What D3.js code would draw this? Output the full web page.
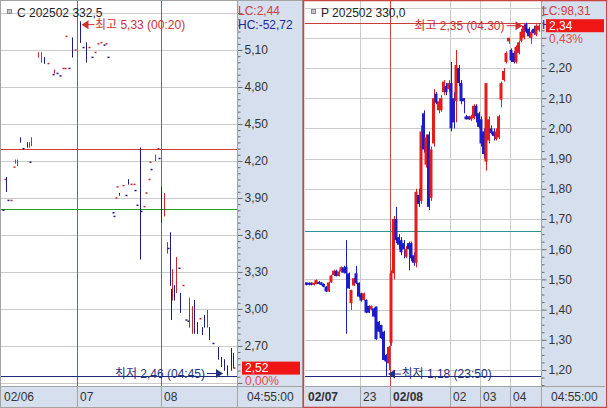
<!DOCTYPE html>
<html>
<head>
<meta charset="utf-8">
<script src="https://cdn.jsdelivr.net/npm/d3@7"></script>
<style>
  html, body { margin: 0; padding: 0; background: #fff; }
  svg { display: block; }
  text { font-family: "Liberation Sans", Arial, "Noto Sans CJK KR", sans-serif; font-size: 12px; }
</style>
</head>
<body>
<svg id="chart" width="608" height="408"></svg>
<script>
// ---------- Call option: C 202502 332.5 (thin trading, one entry per traded bar) ----------
const callTitle = "C 202502 332,5";
const callSlot  = [0,1,2,3,5,7,8,9,11,13,16,17,18,19,23,25,27,30,33,34,36,38,40,41,42,44,46,48,51,53,55,57,59,61,63,65,67,69,70,73,74,75,76,77,80,82,83,85,87,88,89,91,92,94,95,97,98,99,101,103,104,105,107,109,110,111,112,113,114,115,117,118,120,122,123,124,126,127,129,131,133,134,136,137,140,143,145,147,149,152,153,154];
const callOpen  = [3.80,4.05,4.07,3.88,3.88,4.15,4.18,4.16,4.39,4.30, 4.35,4.31,4.19,4.32,5.04,5.00,5.04,4.99,4.90,4.91, 4.91,4.89,4.95,4.95,5.21,4.95,5.20,5.10,5.33,5.12, 5.16,5.12,5.04,5.08,5.15,5.16,5.14,5.15,5.04,3.78, 3.75,3.90,3.99,3.94,4.00,3.92,4.05,4.01,4.01,3.96, 3.84,3.85,3.79,3.83,3.94,4.05,4.19,4.13,4.20,4.30, 4.22,3.96,3.76,3.45,3.49,3.62,3.16,3.07,3.19,3.13, 3.33,3.13,3.19,2.91,2.90,2.85,2.80,3.07,2.89,2.92, 2.85,2.95,2.85,2.85,2.72,2.69,2.61,2.59,2.54,2.68, 2.64,2.52];
const callHigh  = [3.80,4.05,4.07,3.88,3.88,4.15,4.21,4.21,4.39,4.30, 4.35,4.35,4.19,4.39,5.08,5.08,5.04,4.99,4.90,4.94, 4.91,4.89,4.95,4.95,5.21,4.95,5.20,5.10,5.33,5.12, 5.16,5.12,5.04,5.08,5.15,5.16,5.14,5.15,5.04,3.78, 3.75,3.90,3.99,3.94,4.00,3.92,4.05,4.01,4.01,3.96, 3.84,4.31,3.79,3.83,3.94,4.05,4.19,4.13,4.25,4.30, 4.22,3.99,3.94,3.54,3.49,3.62,3.16,3.32,3.19,3.42, 3.33,3.13,3.19,2.91,2.90,3.09,3.02,3.07,2.89,2.92, 2.85,2.95,2.99,2.85,2.72,2.69,2.61,2.59,2.54,2.68, 2.64,2.52];
const callLow   = [3.80,4.05,3.95,3.88,3.88,4.15,4.18,4.16,4.35,4.30, 4.31,4.31,4.19,4.32,5.04,5.00,4.99,4.99,4.90,4.91, 4.91,4.89,4.95,4.95,5.21,4.95,5.04,5.10,5.16,5.12, 5.00,5.12,5.04,5.08,5.15,5.16,5.14,5.15,5.04,3.78, 3.75,3.90,3.99,3.92,4.00,3.92,4.01,4.01,4.01,3.96, 3.84,3.40,3.79,3.83,3.94,4.05,4.19,4.13,4.20,4.30, 4.22,3.70,3.75,3.45,3.49,3.19,2.91,3.07,3.07,3.13, 3.33,2.97,3.19,2.91,2.90,2.85,2.80,2.80,2.80,2.92, 2.79,2.85,2.85,2.75,2.72,2.59,2.53,2.50,2.46,2.50, 2.52,2.52];
const callClose = [3.80,4.05,3.95,3.88,3.88,4.15,4.21,4.21,4.35,4.30, 4.31,4.35,4.19,4.39,5.08,5.08,4.99,4.99,4.90,4.94, 4.91,4.89,4.95,4.95,5.21,4.95,5.04,5.10,5.16,5.12, 5.00,5.12,5.04,5.08,5.15,5.16,5.14,5.15,5.04,3.78, 3.75,3.90,3.99,3.92,4.00,3.92,4.01,4.01,4.01,3.96, 3.84,3.80,3.79,3.83,3.94,4.05,4.19,4.13,4.25,4.30, 4.22,3.74,3.90,3.54,3.49,3.19,2.91,3.32,3.07,3.42, 3.33,2.97,3.19,2.91,2.90,3.09,3.02,2.80,2.80,2.92, 2.79,2.85,2.99,2.75,2.72,2.59,2.53,2.50,2.46,2.50, 2.52,2.52];
const callTicks      = [2.40,2.70,3.00,3.30,3.60,3.90,4.20,4.50,4.80,5.10,5.40];
const callDayLabels  = ["02/06","07","08"];
const callDaySlots   = [0,49,105];
const callDayBold    = [false,false,false];
const callRefValues  = [4.30,3.81,2.46];
const callInfo       = ["LC:2,44","HC:-52,72"];
const callLast       = 2.52;
const callChange     = "0,00%";
const callExtValue   = [5.33,2.46];
const callExtTime    = ["00:20","04:45"];
const callExtSlot    = [51,149];

// ---------- Put option: P 202502 330.0 (5-minute bars, 21:10 - 04:55) ----------
const putTitle = "P 202502 330,0";
const putOpen  = [1.490,1.489,1.489,1.482,1.485,1.492,1.490,1.485,1.476,1.460, 1.490,1.514,1.529,1.511,1.526,1.540,1.542,1.520,1.421,1.480, 1.520,1.489,1.454,1.432,1.432,1.412,1.400,1.404,1.410,1.360, 1.349,1.327,1.250,1.222,1.290,1.520,1.700,1.640,1.630,1.620, 1.575,1.620,1.620,1.580,1.555,1.780,1.760,2.050,1.880,1.980, 1.770,1.950,2.115,2.060,2.060,2.120,2.140,2.130,2.150,2.100, 2.090,2.200,2.150,2.100,2.040,2.040,2.030,2.035,2.075,2.050, 2.030,1.990,1.890,1.960,2.000,1.990,1.965,1.970,2.095,2.160, 2.220,2.288,2.260,2.250,2.220,2.250,2.290,2.300,2.345,2.330, 2.300,2.330,2.310,2.325];
const putHigh  = [1.490,1.490,1.490,1.490,1.500,1.495,1.492,1.487,1.478,1.492, 1.515,1.532,1.532,1.530,1.543,1.545,1.630,1.523,1.466,1.505, 1.545,1.490,1.456,1.456,1.434,1.414,1.414,1.406,1.410,1.362, 1.350,1.330,1.252,1.280,1.530,1.710,1.740,1.650,1.640,1.630, 1.610,1.625,1.625,1.590,1.800,1.800,2.010,2.060,1.980,1.990, 1.940,2.130,2.120,2.100,2.110,2.160,2.150,2.160,2.220,2.120, 2.260,2.210,2.160,2.100,2.045,2.042,2.045,2.080,2.080,2.055, 2.040,2.000,2.150,2.040,2.010,2.000,2.000,2.045,2.155,2.200, 2.255,2.300,2.265,2.255,2.275,2.290,2.330,2.345,2.350,2.335, 2.325,2.340,2.345,2.345];
const putLow   = [1.480,1.480,1.480,1.480,1.484,1.484,1.480,1.474,1.458,1.458, 1.488,1.512,1.510,1.510,1.522,1.520,1.320,1.468,1.399,1.478, 1.485,1.440,1.426,1.430,1.388,1.388,1.398,1.375,1.300,1.325, 1.303,1.232,1.180,1.200,1.280,1.500,1.620,1.600,1.580,1.570, 1.570,1.530,1.560,1.545,1.540,1.740,1.750,1.920,1.870,1.730, 1.760,1.940,2.080,2.050,2.055,2.110,2.110,2.120,1.990,2.000, 2.020,2.140,2.080,2.050,2.030,2.028,2.025,2.030,2.020,2.000, 1.940,1.900,1.860,1.950,1.980,1.960,1.960,1.965,2.070,2.155, 2.215,2.280,2.220,2.215,2.215,2.245,2.285,2.295,2.315,2.300, 2.280,2.310,2.305,2.320];
const putClose = [1.482,1.482,1.482,1.489,1.498,1.485,1.482,1.476,1.460,1.490, 1.513,1.529,1.511,1.526,1.540,1.522,1.520,1.470,1.465,1.504, 1.487,1.443,1.430,1.454,1.390,1.390,1.412,1.377,1.302,1.327, 1.305,1.233,1.228,1.277,1.520,1.700,1.630,1.615,1.590,1.600, 1.600,1.600,1.570,1.555,1.790,1.750,1.990,1.930,1.970,1.740, 1.930,2.100,2.085,2.090,2.100,2.155,2.120,2.150,2.000,2.020, 2.210,2.150,2.090,2.090,2.030,2.030,2.040,2.075,2.040,2.005, 1.950,1.915,2.150,2.030,1.985,1.975,1.990,2.040,2.150,2.190, 2.250,2.300,2.225,2.220,2.270,2.285,2.320,2.340,2.320,2.305, 2.320,2.315,2.340,2.340];
const putTicks      = [1.10,1.20,1.30,1.40,1.50,1.60,1.70,1.80,1.90,2.00,2.10,2.20,2.30,2.40];
const putHourLabels = ["02/07","23","02/08","02","03","04"];
const putHourSlots  = [0,22,34,58,70,82];
const putHourBold   = [true,false,true,false,false,false];
const putRefValues  = [2.35,1.66,1.18];
const putInfo       = ["LC:98,31","HC:-58,92"];
const putLast       = 2.34;
const putChange     = "0,43%";
const putExtValue   = [2.35,1.18];
const putExtTime    = ["04:30","23:50"];
const putExtSlot    = [88,32];

const lastTime = "04:55:00";

// ---------- shared styling ----------
const BAND = "#d5dfee";
const GRID = "#cbcbcb";
const FRAME = "#a3a3a3";
const SEP = "#cc4444";
const HIGH_TXT = "#cc3030";
const LOW_TXT = "#23307e";

const svg = d3.select("#chart");
const defs = svg.append("defs");
const locale = d3.formatLocale({decimal: ",", thousands: ".", grouping: [3], currency: ["", ""]});
const f2 = locale.format(".2f");
const crisp = v => Math.round(v) + 0.5;

function drawPanel(p) {
  const top = 1, plotBottom = 386, bottom = 407;
  const g = svg.append("g");
  const x = d3.scaleLinear().domain(p.slotDomain).range([p.plotX0, p.plotX1]);
  const y = d3.scaleLinear().domain(p.yDomain).range(p.yRange);
  const step = x(1) - x(0);

  // backgrounds: plot, price axis strip, time axis strip
  g.append("rect").attr("x", p.frameX0).attr("y", top).attr("width", p.plotX1 - p.frameX0).attr("height", plotBottom - top).attr("fill", "#fff");
  g.append("rect").attr("x", p.plotX1).attr("y", top).attr("width", p.axisX1 - p.plotX1).attr("height", plotBottom - top).attr("fill", BAND);
  g.append("rect").attr("x", p.frameX0).attr("y", plotBottom).attr("width", p.axisX1 - p.frameX0).attr("height", bottom - plotBottom).attr("fill", BAND);

  defs.append("clipPath").attr("id", p.id + "-clip")
    .append("rect").attr("x", p.frameX0).attr("y", top).attr("width", p.plotX1 - p.frameX0).attr("height", plotBottom - top);
  const plot = g.append("g").attr("clip-path", `url(#${p.id}-clip)`);

  // horizontal price grid
  plot.selectAll("line.hgrid").data(p.ticks).join("line").attr("class", "hgrid")
    .attr("x1", p.frameX0).attr("x2", p.plotX1)
    .attr("y1", d => crisp(y(d))).attr("y2", d => crisp(y(d)))
    .attr("stroke", GRID).attr("stroke-width", 1);

  // hour grid and day separators
  const divX = s => crisp(x(s) - p.gridShift * step);
  p.timeSlots.forEach((s, i) => {
    if (i === 0) return;
    const isDay = p.dayMarks.includes(s);
    plot.append("line")
      .attr("x1", divX(s)).attr("x2", divX(s)).attr("y1", top).attr("y2", plotBottom)
      .style("stroke", isDay ? SEP : GRID).style("stroke-width", 1);
  });

  // reference lines
  p.refValues.forEach((v, i) => {
    plot.append("line")
      .attr("x1", p.frameX0).attr("x2", p.plotX1)
      .attr("y1", crisp(y(v))).attr("y2", crisp(y(v)))
      .style("stroke", p.refColors[i]).style("stroke-width", 1);
  });

  // candles
  const bars = p.slot.map((s, i) => ({s, o: p.open[i], h: p.high[i], l: p.low[i], c: p.close[i]}));
  bars.forEach((b, i) => {
    b.up = b.c > b.o ? true : b.c < b.o ? false : (i > 0 ? b.c >= bars[i - 1].c : false);
  });
  const color = b => b.up ? p.upColor : p.downColor;
  const bodyH = b => Math.abs(y(b.o) - y(b.c));
  const bodyW = b => (p.thin && bodyH(b) < 1.5) ? 2 : p.bodyW;
  plot.selectAll("line.wick").data(bars).join("line").attr("class", "wick")
    .attr("x1", b => crisp(x(b.s))).attr("x2", b => crisp(x(b.s)))
    .attr("y1", b => y(b.h)).attr("y2", b => y(b.l))
    .attr("stroke", color).attr("stroke-width", 1);
  plot.selectAll("rect.body").data(bars).join("rect").attr("class", "body")
    .attr("x", b => p.thin ? Math.round(x(b.s)) - (bodyW(b) > 1 ? 0.5 : 0) : x(b.s) - bodyW(b) / 2)
    .attr("width", bodyW)
    .attr("y", b => Math.min(y(b.o), y(b.c)) - (bodyH(b) < 1.5 ? 0.75 : 0))
    .attr("height", b => Math.max(1.5, bodyH(b)))
    .attr("fill", color);

  // high / low markers
  const ann = g.append("g");
  p.extValue.forEach((v, i) => {
    const isHigh = i === 0;
    const col = isHigh ? HIGH_TXT : LOW_TXT;
    const label = (isHigh ? "최고 " : "최저 ") + f2(v) + " (" + p.extTime[i] + ")";
    const bx = x(p.extSlot[i]);
    const ay = y(v) + (isHigh ? 3 : -2);
    if (p.extDir[i] === "left") {
      const tip = bx + 2;
      ann.append("path").attr("d", `M${tip},${ay}L${tip + 7},${ay - 4.5}L${tip + 7},${ay + 4.5}Z`).attr("fill", col);
      ann.append("line").attr("x1", tip + 6).attr("x2", tip + 13).attr("y1", ay).attr("y2", ay).attr("stroke", col);
      ann.append("text").attr("x", tip + 13.5).attr("y", ay).attr("dy", "0.36em").attr("fill", col).text(label);
    } else {
      const tip = bx - 3.5;
      ann.append("path").attr("d", `M${tip},${ay}L${tip - 7},${ay - 4.5}L${tip - 7},${ay + 4.5}Z`).attr("fill", col);
      ann.append("line").attr("x1", tip - 16).attr("x2", tip - 6).attr("y1", ay).attr("y2", ay).attr("stroke", col);
      ann.append("text").attr("x", tip - 18).attr("y", ay).attr("dy", "0.36em").attr("text-anchor", "end").attr("fill", col).text(label);
    }
  });

  // title with small icon
  g.append("rect").attr("x", p.frameX0 + 6.5).attr("y", 9.5).attr("width", 4).attr("height", 4)
    .attr("fill", "#c4c4c4").attr("stroke", "#8a8a8a");
  g.append("text").attr("x", p.frameX0 + 16).attr("y", 17).attr("fill", "#222").text(p.title);

  // price axis: major and minor ticks
  const lastY = y(p.last);
  const showLabel = d => {
    const ty = y(d);
    return ty > 32 && ty < 378 && Math.abs(ty - lastY) > 9 && Math.abs(ty - (lastY + 12)) > 8;
  };
  const minor = d3.range(p.yDomain[0], p.yDomain[1] + 1e-9, p.minorStep)
    .filter(v => !p.ticks.some(t => Math.abs(t - v) < 1e-6));
  const axMinor = d3.axisRight(y).tickValues(minor).tickSize(3).tickFormat("");
  const axMajor = d3.axisRight(y).tickValues(p.ticks).tickSize(5).tickPadding(2)
    .tickFormat(d => showLabel(d) ? f2(d) : "");
  [axMinor, axMajor].forEach(ax => {
    const ag = g.append("g").attr("transform", `translate(${p.plotX1 + 0.5},0)`).call(ax);
    ag.select(".domain").remove();
    ag.selectAll(".tick line").attr("stroke", "#6a6a6a");
    ag.selectAll(".tick text").attr("fill", "#333");
    ag.selectAll(".tick").filter(d => y(d) < top || y(d) > plotBottom).remove();
  });

  // LC / HC readouts
  g.append("text").attr("x", p.plotX1 + 1).attr("y", 14.5).attr("fill", "#d23c3c").text(p.info[0]);
  g.append("text").attr("x", p.plotX1 + 1).attr("y", 28.5).attr("fill", "#1e2896").text(p.info[1]);

  // last price tag (covers the HC readout when it sits that high) and change
  g.append("rect").attr("x", p.plotX1 + 5).attr("y", lastY - 6.5).attr("width", 58).attr("height", 13).attr("fill", "#f01616");
  g.append("text").attr("x", p.plotX1 + 8).attr("y", lastY).attr("dy", "0.36em").attr("fill", "#fff").text(f2(p.last));
  g.append("text").attr("x", p.plotX1 + 8).attr("y", lastY + 12.5).attr("dy", "0.36em").attr("fill", "#e24848").text(p.change);

  // time axis strip
  p.timeSlots.forEach((s, i) => {
    const dx = i === 0 ? p.frameX0 + 1.5 : divX(s);
    if (i > 0) {
      g.append("line").attr("x1", dx).attr("x2", dx).attr("y1", plotBottom).attr("y2", bottom).attr("stroke", FRAME);
    }
    g.append("text").attr("x", dx + (i === 0 ? 1.5 : 2.5)).attr("y", 401)
      .attr("fill", "#333")
      .style("font-weight", p.timeBold[i] ? "bold" : "normal")
      .text(p.timeLabels[i]);
  });
  g.append("text").attr("x", p.plotX1 + 10).attr("y", 401).attr("fill", "#333").text(lastTime);

  // frame lines
  g.append("line").attr("x1", p.frameX0).attr("x2", p.axisX1).attr("y1", plotBottom + 0.5).attr("y2", plotBottom + 0.5).attr("stroke", FRAME);
  g.append("line").attr("x1", p.plotX1 + 0.5).attr("x2", p.plotX1 + 0.5).attr("y1", top).attr("y2", bottom).attr("stroke", FRAME);
}

drawPanel({
  id: "call", title: callTitle,
  frameX0: 1, plotX0: 3, plotX1: 237, axisX1: 302,
  slotDomain: [0, 156], yDomain: [2.40, 5.40], yRange: [382.9, 13.0],
  slot: callSlot, open: callOpen, high: callHigh, low: callLow, close: callClose,
  thin: true, bodyW: 1, upColor: "#c42a2a", downColor: "#1c1c84",
  ticks: callTicks, minorStep: 0.05,
  timeLabels: callDayLabels, timeSlots: callDaySlots, timeBold: callDayBold, dayMarks: [49, 105], gridShift: 0,
  refValues: callRefValues, refColors: ["#d03c3c", "#20a020", "#1f2a7a"],
  info: callInfo, last: callLast, change: callChange,
  extValue: callExtValue, extTime: callExtTime, extSlot: callExtSlot, extDir: ["left", "right"]
});

drawPanel({
  id: "put", title: putTitle,
  frameX0: 305, plotX0: 306, plotX1: 541, axisX1: 605,
  slotDomain: [0, 94], yDomain: [1.10, 2.40], yRange: [400.2, 7.6],
  slot: putOpen.map((d, i) => i), open: putOpen, high: putHigh, low: putLow, close: putClose,
  thin: false, bodyW: 3, upColor: "#e41c1c", downColor: "#1c1cc8",
  ticks: putTicks, minorStep: 0.025,
  timeLabels: putHourLabels, timeSlots: putHourSlots, timeBold: putHourBold, dayMarks: [34], gridShift: 0.5,
  refValues: putRefValues, refColors: ["#c83c3c", "#2a9494", "#1f2a7a"],
  info: putInfo, last: putLast, change: putChange,
  extValue: putExtValue, extTime: putExtTime, extSlot: putExtSlot, extDir: ["right", "left"]
});

// outer frames
svg.append("rect").attr("x", 0.5).attr("y", 0.5).attr("width", 302).attr("height", 407)
  .attr("fill", "none").attr("stroke", FRAME);
svg.append("rect").attr("x", 303.5).attr("y", 0.5).attr("width", 303).attr("height", 407)
  .attr("fill", "none").attr("stroke", SEP).attr("stroke-width", 1.5);
</script>
</body>
</html>
